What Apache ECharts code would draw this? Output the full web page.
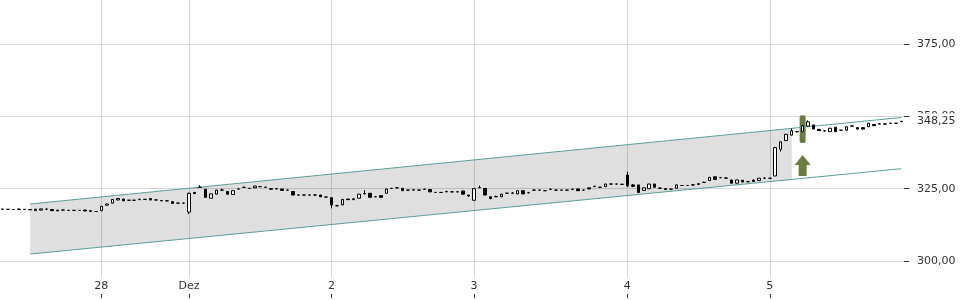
<!DOCTYPE html>
<html><head><meta charset="utf-8">
<script src="https://cdn.jsdelivr.net/npm/echarts@6/dist/echarts.min.js"></script>
<style>html,body{margin:0;padding:0;background:#fff}#c{width:960px;height:300px}</style>
</head><body><div id="c"></div>
<script>
// x-axis day labels and the candle index where each day starts
const dayLabels = ['28', 'Dez', '2', '3', '4', '5'];
const dayStarts = [18, 34, 60, 86, 114, 140];

// candles: [open, close, low, high]
const candles = [
 [317.9,317.9,317.8,318.0],[317.9,317.8,317.7,317.9],[317.8,317.8,317.7,317.9],[317.8,317.9,317.8,318.2],
 [317.9,317.8,317.7,317.9],[317.8,317.7,317.6,317.8],[317.4,317.9,317.4,318.0],[317.6,318.0,317.5,318.1],
 [317.9,317.9,317.8,318.2],[317.8,317.4,317.3,317.8],[317.6,317.3,317.3,317.6],[317.6,317.6,317.5,317.7],
 [317.5,317.5,317.4,317.6],[317.5,317.5,317.5,317.6],[317.5,317.5,317.4,317.5],[317.6,317.3,317.3,317.7],
 [317.4,317.1,317.0,317.4],[317.1,317.1,317.0,317.2],
 [317.4,318.9,317.3,319.0],[319.3,319.7,319.2,319.8],[320.0,321.3,319.9,321.4],[321.1,321.6,321.0,321.7],
 [321.4,320.8,320.7,321.5],[321.0,321.0,320.9,321.1],[321.0,321.0,320.9,321.1],[321.2,321.3,321.2,321.6],
 [321.3,321.3,321.2,321.4],[321.6,321.1,321.0,321.7],[321.1,321.1,321.0,321.2],[320.9,320.8,320.7,320.9],
 [320.8,320.8,320.7,321.1],[320.5,319.9,319.8,320.6],[320.0,320.0,319.9,320.1],[320.0,320.0,319.9,320.0],
 [316.9,323.4,316.2,323.6],[323.7,323.3,323.2,323.8],[325.4,325.5,325.4,326.2],[324.8,322.0,321.9,324.9],
 [321.7,323.2,321.6,323.3],[323.1,324.5,323.0,324.6],[324.5,324.5,324.4,325.0],[324.0,323.1,323.0,324.1],
 [323.0,324.3,322.9,324.4],[324.9,324.9,324.8,325.0],[325.4,325.5,325.4,325.8],[325.1,325.1,325.0,325.2],
 [325.3,325.9,325.2,326.0],[325.7,325.7,325.6,325.8],[325.5,325.5,325.4,325.6],[325.0,324.8,324.7,325.1],
 [324.9,325.0,324.9,325.2],[324.9,324.4,324.3,324.9],[324.5,324.5,324.4,324.6],[324.0,322.8,322.7,324.1],
 [322.8,322.8,322.7,322.9],[322.8,322.8,322.7,322.9],[322.8,322.8,322.7,322.9],[322.8,322.8,322.7,322.9],
 [322.8,322.2,322.1,322.9],[322.1,322.1,322.0,322.2],
 [321.9,319.4,318.2,322.0],[319.1,319.1,318.9,319.4],[319.4,321.3,319.3,321.4],[321.4,321.2,321.1,321.5],
 [321.2,321.5,321.1,321.6],[321.7,323.1,321.6,323.2],[323.2,323.3,323.1,324.5],[323.4,322.0,321.9,323.5],
 [322.2,322.2,322.1,322.3],[322.6,322.0,321.9,322.7],[323.4,324.9,323.3,325.0],[325.1,325.1,325.0,325.2],
 [325.3,325.3,325.2,325.4],[325.1,324.3,324.2,325.2],[324.5,324.5,324.4,324.6],[324.5,324.6,324.5,324.9],
 [324.5,324.5,324.4,324.6],[324.7,324.8,324.7,325.1],[324.7,323.9,323.8,324.8],[323.7,323.7,323.6,323.8],
 [323.7,323.7,323.6,323.8],[323.9,324.0,323.9,324.3],[323.9,323.9,323.8,324.0],[323.9,323.9,323.8,324.0],
 [324.2,323.1,323.0,324.3],[322.8,322.5,322.2,322.8],
 [321.0,325.0,320.9,325.1],[325.3,325.4,325.3,326.1],[325.1,322.8,322.7,325.2],[322.2,321.6,321.3,322.2],
 [322.2,322.3,322.2,322.6],[322.2,323.1,322.1,323.2],[323.4,323.4,323.2,323.7],[323.4,323.5,323.4,323.8],
 [323.2,324.3,323.1,324.4],[324.3,323.2,323.1,324.4],[323.6,323.6,323.4,323.9],[324.5,324.5,324.4,324.6],
 [324.5,324.5,324.4,324.6],[324.3,324.3,324.2,324.4],[324.7,324.8,324.7,325.1],[324.5,324.5,324.4,324.6],
 [324.5,324.5,324.4,324.6],[324.5,324.5,324.4,324.6],[324.7,324.8,324.7,325.1],[324.9,324.3,324.2,325.0],
 [324.5,324.5,324.4,324.6],[325.3,324.9,324.8,325.4],[325.7,325.8,325.7,326.1],[325.5,325.5,325.4,325.6],
 [325.7,326.6,325.6,326.7],[326.6,326.6,326.5,326.7],[326.6,326.6,326.5,326.7],[326.5,326.5,326.4,326.6],
 [329.7,325.9,325.5,330.9],[326.3,325.8,325.5,326.6],[326.3,323.7,323.6,326.4],[324.4,325.3,324.3,325.4],
 [325.0,326.6,324.9,326.7],[326.6,325.5,325.4,326.7],[325.1,325.2,325.1,325.5],[325.0,324.7,324.6,325.1],
 [324.8,324.8,324.7,324.9],[325.1,326.3,325.0,326.4],[326.1,326.1,326.0,326.2],[326.1,326.1,326.0,326.2],
 [326.3,326.3,326.0,326.6],[326.7,326.5,326.4,326.8],[327.1,327.2,327.1,327.5],[327.8,328.9,327.7,329.0],
 [329.1,328.2,328.1,329.2],[328.8,328.8,328.7,328.9],[328.6,328.7,328.6,329.0],[328.0,326.9,326.8,328.1],
 [326.9,328.0,326.8,328.1],[327.9,327.3,327.2,328.0],[327.4,327.4,327.3,327.5],[328.0,327.5,327.4,328.1],
 [327.8,328.6,327.7,328.7],[328.6,328.6,328.4,329.0],
 [328.6,328.6,328.5,328.7],[329.4,339.2,329.3,339.4],[338.6,341.2,337.8,341.3],[341.6,343.8,341.5,343.9],
 [343.5,345.0,343.4,345.8],[344.7,344.7,344.4,345.0],[344.7,346.7,344.6,346.8],[346.6,348.1,346.5,348.6],
 [347.0,345.6,345.5,347.1],[345.5,345.1,345.0,345.6],[345.0,345.0,344.7,345.3],[344.7,345.9,344.6,346.0],
 [346.2,344.7,344.6,346.3],[345.2,345.2,345.1,345.3],[345.2,346.4,345.1,346.5],[346.6,346.7,346.6,347.0],
 [346.1,345.6,345.5,346.2],[346.1,345.6,345.5,346.2],[346.4,347.6,346.3,347.7],[347.2,346.8,346.6,347.3],
 [347.3,347.4,347.3,347.7],[347.3,347.4,347.3,347.7],[347.6,347.6,347.5,347.7],[347.6,347.6,347.5,347.7],
 [348.1,348.25,348.1,348.5]
];

// trend channel (candle index, value)
const channelUpper = [[5, 319.7], [164, 349.6]];
const channelLower = [[5, 302.4], [164, 331.9]];
// shaded part of the channel: [index, lower, upper]
const channelFill = [[5, 302.4, 319.7], [144, 328.2, 345.8]];

// breakout signal
const signalIndex = 146;
const signalBar = [340.8, 350.4];
const signalArrow = [329.4, 336.6];

const categories = candles.map((c, i) => String(i));
const isDayStart = (i) => dayStarts.indexOf(i) >= 0;
const fmt = (v) => v.toFixed(2).replace('.', ',');
const lastClose = candles[candles.length - 1][1];
const GRID = '#d9d9d9';
const TXT = '#333';
const GREEN = '#6b7d3b';
const FONT = 'DejaVu Sans';

const chart = echarts.init(document.getElementById('c'), null, {renderer: 'canvas'});
chart.setOption({
  animation: false,
  backgroundColor: '#fff',
  textStyle: {fontFamily: FONT},
  grid: [
    {left: 0, right: 56, top: -28.333, height: 361.667, outerBoundsMode: 'none', containLabel: false},
    {left: 2.739, right: 58.7, top: 0, height: 278, outerBoundsMode: 'none', containLabel: false}
  ],
  xAxis: [
    {gridIndex: 0, type: 'category', position: 'bottom', data: categories, boundaryGap: true,
     axisLine: {show: false}, axisTick: {show: false}, axisLabel: {show: false}, splitLine: {show: false}},
    {gridIndex: 1, type: 'category', position: 'bottom', data: categories, boundaryGap: false,
     axisLine: {show: false}, axisTick: {show: false},
     axisLabel: {interval: (i) => isDayStart(i), formatter: (v, i) => dayLabels[dayStarts.indexOf(Number(v))] || '',
       margin: 3, fontSize: 11, color: TXT, fontFamily: FONT},
     splitLine: {show: true, interval: (i) => isDayStart(i), lineStyle: {color: GRID, width: 1}}},
    {gridIndex: 1, type: 'category', position: 'bottom', data: categories, boundaryGap: false, offset: 16,
     axisLine: {show: false},
     axisTick: {show: true, interval: (i) => isDayStart(i), length: 4, lineStyle: {color: TXT}},
     axisLabel: {show: false, interval: (i) => isDayStart(i)}, splitLine: {show: false}}
  ],
  yAxis: [
    {gridIndex: 0, type: 'value', position: 'right', min: 275, max: 400, interval: 25,
     axisLine: {show: false},
     axisTick: {show: true, length: 5, lineStyle: {color: TXT}},
     axisLabel: {margin: 13, fontSize: 11, color: TXT, fontFamily: FONT, formatter: fmt},
     splitLine: {show: true, lineStyle: {color: GRID, width: 1}}},
    {gridIndex: 1, type: 'value', show: false, min: 0, max: 1}
  ],
  series: [
    {type: 'custom', xAxisIndex: 0, yAxisIndex: 0, z: 1, silent: true, data: [[0, 320]],
     renderItem: (params, api) => {
       const pts = [];
       channelFill.forEach(r => pts.push(api.coord([r[0], r[2]])));
       channelFill.slice().reverse().forEach(r => pts.push(api.coord([r[0], r[1]])));
       return {type: 'polygon', shape: {points: pts}, style: {fill: 'rgba(0,0,0,0.125)'}};
     }},
    {type: 'line', xAxisIndex: 0, yAxisIndex: 0, data: channelUpper, symbol: 'none', silent: true, z: 2,
     lineStyle: {color: '#5a9e9e', width: 1}},
    {type: 'line', xAxisIndex: 0, yAxisIndex: 0, data: channelLower, symbol: 'none', silent: true, z: 2,
     lineStyle: {color: '#5a9e9e', width: 1}},
    {type: 'custom', xAxisIndex: 0, yAxisIndex: 0, z: 2, silent: true, data: [[signalIndex, signalBar[1]]],
     renderItem: (params, api) => {
       const top = api.coord([signalIndex, signalBar[1]]);
       const bot = api.coord([signalIndex, signalBar[0]]);
       const tip = api.coord([signalIndex, signalArrow[1]]);
       const base = api.coord([signalIndex, signalArrow[0]]);
       const x = top[0], hh = 10;
       return {type: 'group', children: [
         {type: 'rect', shape: {x: x - 3, y: top[1], width: 6, height: bot[1] - top[1], r: 2}, style: {fill: GREEN}},
         {type: 'polygon', shape: {points: [[x, tip[1]], [x + 8, tip[1] + hh], [x + 4, tip[1] + hh], [x + 4, base[1]],
           [x - 4, base[1]], [x - 4, tip[1] + hh], [x - 8, tip[1] + hh]]}, style: {fill: GREEN}}
       ]};
     }},
    {type: 'candlestick', xAxisIndex: 0, yAxisIndex: 0, z: 3, data: candles, barWidth: 3,
     itemStyle: {color: '#fff', color0: '#000', borderColor: '#000', borderColor0: '#000', borderColorDoji: '#000', borderWidth: 1},
     markLine: {silent: true, symbol: 'none', data: [{yAxis: lastClose}],
       lineStyle: {color: 'rgba(0,0,0,0)', width: 1},
       label: {show: true, position: 'end', distance: 11, formatter: () => fmt(lastClose),
         fontSize: 11, color: TXT, fontFamily: FONT, backgroundColor: '#fff',
         padding: [4, 3, 0, 2], lineHeight: 12, offset: [0, 0]}}}
  ]
});
</script></body></html>
